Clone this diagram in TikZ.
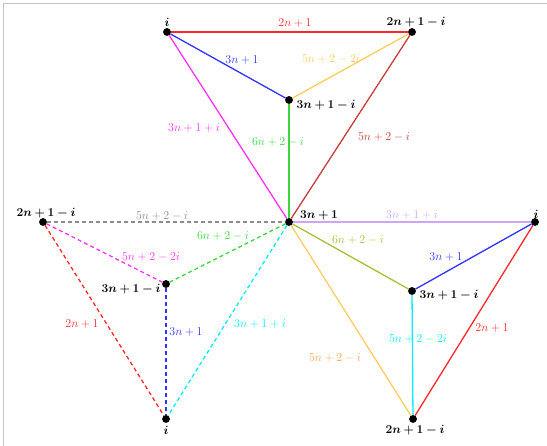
\documentclass[tikz,border=0pt]{standalone}
\usepackage{bm}
\definecolor{cRed}{RGB}{255,40,40}
\definecolor{cBlue}{RGB}{50,50,255}
\definecolor{cYel}{RGB}{255,205,90}
\definecolor{cMag}{RGB}{255,50,255}
\definecolor{cGrn}{RGB}{60,215,60}
\definecolor{cBrick}{RGB}{200,60,60}
\definecolor{cGray}{RGB}{140,140,140}
\definecolor{cLav}{RGB}{205,165,255}
\definecolor{cOlive}{RGB}{160,195,50}
\definecolor{cCyan}{RGB}{0,240,255}
\definecolor{cOrLine}{RGB}{255,205,100}
\definecolor{cOrText}{RGB}{255,160,80}
\definecolor{cFrame}{RGB}{195,195,195}
\begin{document}
\begin{tikzpicture}[x=1pt,y=-1pt,
  font=\fontsize{13}{15}\selectfont,
  vtx/.style={circle,fill=black,inner sep=0pt,minimum size=7.5pt},
  lbl/.style={inner sep=0pt,anchor=center},
  edg/.style={line width=1.3pt},
  dsh/.style={line width=1.3pt,dash pattern=on 4pt off 3pt}]
\useasboundingbox (0,0) rectangle (547,446);
\draw[cFrame,line width=1pt] (3,446) -- (3,4) -- (547,4);
% vertices
\node[vtx] (TL) at (167,32) {};
\node[vtx] (TR) at (412,32) {};
\node[vtx] (Tin) at (289,100) {};
\node[vtx] (C) at (289,222) {};
\node[vtx] (L) at (43,222) {};
\node[vtx] (Lin) at (166,284) {};
\node[vtx] (LB) at (166,419) {};
\node[vtx] (R) at (535,222) {};
\node[vtx] (Rin) at (412,291) {};
\node[vtx] (RB) at (413,419) {};
% top part (solid)
\draw[edg,cRed] (TL) -- (TR) node[lbl] (e1) at (295,23) {$2n+1$};
\draw[edg,cBlue] (TL) -- (Tin) node[lbl] (e2) at (242,60) {$3n+1$};
\draw[edg,cYel] (TR) -- (Tin) node[lbl] (e3) at (331,59) {$5n+2-2i$};
\draw[edg,cMag] (TL) -- (C) node[lbl] (e4) at (194,128) {$3n+1+i$};
\draw[edg,cGrn] (Tin) -- (C) node[lbl] (e5) at (278,142) {$6n+2-i$};
\draw[edg,cBrick] (TR) -- (C) node[lbl] (e6) at (384,137) {$5n+2-i$};
% left part (dashed)
\draw[dsh,cGray] (L) -- (C) node[lbl] (e7) at (162,216) {$5n+2-i$};
\draw[dsh,cMag] (L) -- (Lin) node[lbl] (e8) at (151,257) {$5n+2-2i$};
\draw[dsh,cGrn] (Lin) -- (C) node[lbl] (e9) at (223,236) {$6n+2-i$};
\draw[dsh,cRed] (L) -- (LB) node[lbl] (e10) at (82,324) {$2n+1$};
\draw[dsh,cBlue] (Lin) -- (LB) node[lbl] (e11) at (186,332) {$3n+1$};
\draw[dsh,cCyan] (C) -- (LB) node[lbl] (e12) at (260,324) {$3n+1+i$};
% right part (solid)
\draw[edg,cLav] (C) -- (R) node[lbl] (e13) at (412,215) {$3n+1+i$};
\draw[edg,cOlive] (C) -- (Rin) node[lbl] (e14) at (358,240) {$6n+2-i$};
\draw[edg,cBlue] (R) -- (Rin) node[lbl] (e15) at (446,257) {$3n+1$};
\draw[edg,cRed] (R) -- (RB) node[lbl] (e16) at (492,328) {$2n+1$};
\draw[edg,cCyan] (Rin) -- (RB) node[lbl] (e17) at (418,339) {$5n+2-2i$};
\draw[edg,cOrLine] (C) -- (RB) node[lbl,text=cOrText] (e18) at (335,358) {$5n+2-i$};
% redraw dots on top
\foreach \v in {TL,TR,Tin,C,L,Lin,LB,R,Rin,RB} \fill (\v) circle (3.75pt);
% vertex labels
\node[lbl] (vTL) at (167,22) {$\bm{i}$};
\node[lbl] (vTR) at (416,22) {$\bm{2n+1-i}$};
\node[lbl] (vTin) at (326,105) {$\bm{3n+1-i}$};
\node[lbl] (vC) at (319,215) {$\bm{3n+1}$};
\node[lbl] (vL) at (46,213) {$\bm{2n+1-i}$};
\node[lbl] (vLin) at (131,289) {$\bm{3n+1-i}$};
\node[lbl] (vLB) at (166,430) {$\bm{i}$};
\node[lbl] (vR) at (536,214) {$\bm{i}$};
\node[lbl] (vRin) at (449,295) {$\bm{3n+1-i}$};
\node[lbl] (vRB) at (415,430) {$\bm{2n+1-i}$};
\end{tikzpicture}
\end{document}
